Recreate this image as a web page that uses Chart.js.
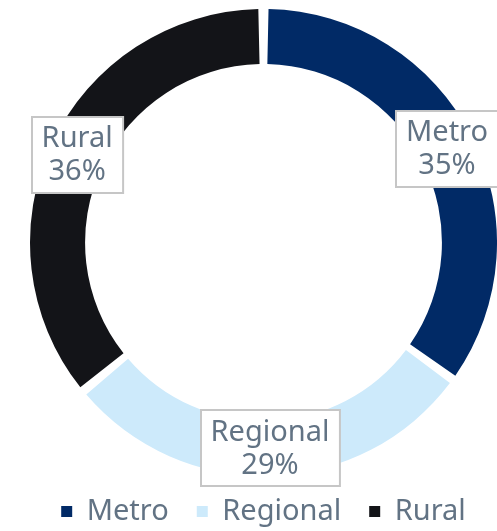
<!DOCTYPE html>
<html lang="en">
<head>
    <meta charset="UTF-8">
    <script src="https://cdn.jsdelivr.net/npm/chart.js@4.4.1/dist/chart.umd.min.js"></script>
    <title>Metro Regional Rural</title>
    <style>
        html, body { margin: 0; padding: 0; background: #fff; }
        #wrap { width: 497px; height: 531px; }
    </style>
</head>
<body>
    <div id="wrap"><canvas id="chart"></canvas></div>

    <script>
        const categories = ["Metro", "Regional", "Rural"];
        const shares = [35, 29, 36];
        const colours = ["#012a66", "#cdeafb", "#131418"];

        const textColour = "#627384";
        const fontFamily = "'Noto Sans', sans-serif";
        const fontSize = 29;

        // boxed labels at the middle of each slice
        const boxLabels = {
            id: "boxLabels",
            afterDatasetsDraw(chart) {
                const ctx = chart.ctx;
                const meta = chart.getDatasetMeta(0);
                ctx.save();
                ctx.font = fontSize + "px " + fontFamily;
                ctx.textAlign = "center";
                ctx.textBaseline = "middle";
                meta.data.forEach((arc, i) => {
                    const p = arc.getCenterPoint();
                    const lines = [categories[i], shares[i] + "%"];
                    const w = Math.max(...lines.map(l => ctx.measureText(l).width)) + 20;
                    const h = 76;
                    const x = Math.round(p.x - w / 2);
                    const y = Math.round(p.y - h / 2);
                    ctx.fillStyle = "#fff";
                    ctx.fillRect(x, y, w, h);
                    ctx.strokeStyle = "#c6c6c6";
                    ctx.lineWidth = 2;
                    ctx.strokeRect(x, y, w, h);
                    ctx.fillStyle = textColour;
                    ctx.fillText(lines[0], p.x, p.y - 16);
                    ctx.fillText(lines[1], p.x, p.y + 17);
                });
                ctx.restore();
            }
        };

        // wide gaps between legend items but a short legend box
        const shortLegend = {
            id: "shortLegend",
            beforeInit(chart) {
                const fit = chart.legend.fit;
                chart.legend.fit = function() {
                    fit.call(this);
                    this.height -= 21;
                };
            },
            afterLayout(chart) {
                chart.legend.top -= 16;
                chart.legend.bottom = chart.height;
            }
        };

        new Chart("chart", {
            type: "doughnut",
            data: {
                labels: categories,
                datasets: [{
                    data: shares,
                    backgroundColor: colours,
                    borderWidth: 0,
                    spacing: 8
                }]
            },
            options: {
                responsive: true,
                maintainAspectRatio: false,
                animation: false,
                cutout: "76%",
                layout: { padding: { left: 30, top: 0, right: 0, bottom: 0 } },
                plugins: {
                    tooltip: { enabled: false },
                    legend: {
                        position: "bottom",
                        labels: {
                            boxWidth: 11,
                            boxHeight: 11,
                            padding: 28,
                            color: textColour,
                            font: { family: fontFamily, size: fontSize }
                        }
                    }
                }
            },
            plugins: [boxLabels, shortLegend]
        });
    </script>
</body>
</html>
